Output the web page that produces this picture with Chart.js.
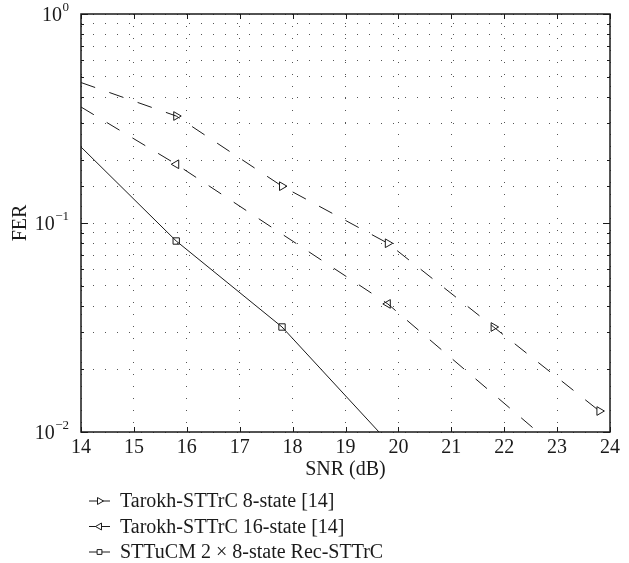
<!DOCTYPE html>
<html>
<head>
<meta charset="utf-8">
<title>FER vs SNR</title>
<script src="https://cdn.jsdelivr.net/npm/chart.js@4.4.1/dist/chart.umd.min.js"></script>
<style>
    body { margin: 0; background: #fff; }
    #wrap { width: 629px; height: 563px; position: relative; }
</style>
</head>
<body>
<div id="wrap"><canvas id="ferChart"></canvas></div>
<script>
// values
const snr8 = [14, 15.8, 17.8, 19.8, 21.8, 23.8];
const fer8 = [0.47, 0.325, 0.150, 0.080, 0.0318, 0.0126];

const snr16 = [14, 15.8, 19.8, 23.8];
const fer16 = [0.359, 0.191, 0.041, 0.0056];

const snrRec = [14, 15.8, 17.8, 19.8];
const ferRec = [0.231, 0.082, 0.0318, 0.009];

const seriesLabels = ['Tarokh-STTrC 8-state [14]', 'Tarokh-STTrC 16-state [14]', 'STTuCM 2 \u00d7 8-state Rec-STTrC'];
const seriesMarkers = ['right', 'left', 'square'];

const xMin = 14, xMax = 24;
const yMin = 0.01, yMax = 1;
const yDecadeExponents = ['\u22122', '\u22121', '0'];

const serif = '"Liberation Serif", "DejaVu Serif", serif';
const ink = '#1a1a1a';

function toPoints(xs, ys) {
    return xs.map((x, i) => ({x: x, y: ys[i]}));
}

function markerRadii(xs, r) {
    // no marker at the first point (line start at the axis)
    return xs.map((x, i) => i === 0 ? 0 : r);
}

function isDecade(v) {
    const l = Math.log10(v);
    return Math.abs(l - Math.round(l)) < 1e-6;
}

function drawMarker(ctx, kind, cx, cy, r) {
    ctx.beginPath();
    if (kind === 'right') {
        ctx.moveTo(cx + r, cy);
        ctx.lineTo(cx - r / 2, cy - r * 0.866);
        ctx.lineTo(cx - r / 2, cy + r * 0.866);
        ctx.closePath();
    } else if (kind === 'left') {
        ctx.moveTo(cx - r, cy);
        ctx.lineTo(cx + r / 2, cy - r * 0.866);
        ctx.lineTo(cx + r / 2, cy + r * 0.866);
        ctx.closePath();
    } else {
        ctx.rect(cx - r * 0.6, cy - r * 0.6, r * 1.2, r * 1.2);
    }
    ctx.fillStyle = '#fff';
    ctx.fill();
    ctx.stroke();
}

const frameAndLabels = {
    id: 'frameAndLabels',
    afterDraw(chart) {
        const ctx = chart.ctx;
        const a = chart.chartArea;
        const x = chart.scales.x;
        const y = chart.scales.y;
        ctx.save();
        ctx.setLineDash([]);
        ctx.strokeStyle = ink;

        // inward tick marks on all four sides
        ctx.lineWidth = 1;
        ctx.beginPath();
        x.ticks.forEach(t => {
            const px = Math.round(x.getPixelForValue(t.value)) + 0.5;
            ctx.moveTo(px, a.bottom); ctx.lineTo(px, a.bottom - 5);
            ctx.moveTo(px, a.top); ctx.lineTo(px, a.top + 5);
        });
        y.ticks.forEach(t => {
            const py = Math.round(y.getPixelForValue(t.value)) + 0.5;
            const len = isDecade(t.value) ? 7 : 3;
            ctx.moveTo(a.left, py); ctx.lineTo(a.left + len, py);
            ctx.moveTo(a.right, py); ctx.lineTo(a.right - len, py);
        });
        ctx.stroke();

        // frame
        ctx.lineWidth = 1.5;
        ctx.strokeRect(a.left, a.top, a.right - a.left, a.bottom - a.top);

        // y decade labels 10^n
        ctx.fillStyle = ink;
        ctx.textBaseline = 'middle';
        ctx.textAlign = 'right';
        [yMin, 0.1, yMax].forEach((v, i) => {
            const py = y.getPixelForValue(v) + 2;
            ctx.font = '13px ' + serif;
            const ew = ctx.measureText(yDecadeExponents[i]).width;
            ctx.fillText(yDecadeExponents[i], 69, py - 8);
            ctx.font = '20px ' + serif;
            ctx.fillText('10', 69 - ew - 0.5, py);
        });

        // legend below the axis
        ctx.textAlign = 'left';
        ctx.font = '20px ' + serif;
        chart.data.datasets.forEach((ds, i) => {
            const ly = 501 + i * 25.5;
            ctx.lineWidth = 1;
            ctx.beginPath();
            ctx.moveTo(89, ly); ctx.lineTo(110, ly);
            ctx.stroke();
            drawMarker(ctx, seriesMarkers[i], 99.5, ly, 4);
            ctx.fillStyle = ink;
            ctx.fillText(ds.label, 120, ly + 1);
        });
        ctx.restore();
    }
};

const ctx = document.getElementById('ferChart').getContext('2d');
const ferChart = new Chart(ctx, {
    type: 'line',
    data: {
        datasets: [{
                label: seriesLabels[0],
                data: toPoints(snr8, fer8),
                borderColor: ink,
                borderWidth: 1,
                borderDash: [15, 15],
                pointStyle: 'triangle',
                pointRotation: 90,
                pointRadius: markerRadii(snr8, 5),
                pointBorderWidth: 1,
                pointBorderColor: ink,
                pointBackgroundColor: 'rgba(255,255,255,0)',
                tension: 0
            }, {
                label: seriesLabels[1],
                data: toPoints(snr16, fer16),
                borderColor: ink,
                borderWidth: 1,
                borderDash: [15, 15],
                pointStyle: 'triangle',
                pointRotation: -90,
                pointRadius: markerRadii(snr16, 5),
                pointBorderWidth: 1,
                pointBorderColor: ink,
                pointBackgroundColor: 'rgba(255,255,255,0)',
                tension: 0
            }, {
                label: seriesLabels[2],
                data: toPoints(snrRec, ferRec),
                borderColor: ink,
                borderWidth: 1,
                pointStyle: 'rect',
                pointRadius: markerRadii(snrRec, 4.5),
                pointBorderWidth: 1,
                pointBorderColor: ink,
                pointBackgroundColor: 'rgba(255,255,255,0)',
                tension: 0
            }]
    },
    options: {
        responsive: true,
        maintainAspectRatio: false,
        animation: false,
        layout: {padding: {left: 0, right: 19, top: 14, bottom: 0}},
        plugins: {
            legend: {display: false},
            tooltip: {enabled: false}
        },
        scales: {
            x: {
                type: 'linear',
                min: xMin,
                max: xMax,
                afterFit: function (scale) { scale.height = 131; },
                ticks: {
                    stepSize: 1,
                    autoSkip: false,
                    maxRotation: 0,
                    padding: 4,
                    color: ink,
                    font: {family: serif, size: 20}
                },
                grid: {drawTicks: false, color: '#555', lineWidth: 1},
                border: {display: false, dash: [1, 11]},
                title: {
                    display: true,
                    text: 'SNR (dB)',
                    color: ink,
                    font: {family: serif, size: 20},
                    padding: {top: 0, bottom: 81}
                }
            },
            y: {
                type: 'logarithmic',
                min: yMin,
                max: yMax,
                afterFit: function (scale) { scale.width = 81; },
                ticks: {
                    autoSkip: false,
                    callback: function () { return ''; }
                },
                grid: {drawTicks: false, color: '#555', lineWidth: 1},
                border: {display: false, dash: [1, 11]},
                title: {
                    display: true,
                    text: 'FER',
                    color: ink,
                    font: {family: serif, size: 20},
                    padding: {top: 9, bottom: 0}
                }
            }
        }
    },
    plugins: [frameAndLabels]
});
</script>
</body>
</html>
